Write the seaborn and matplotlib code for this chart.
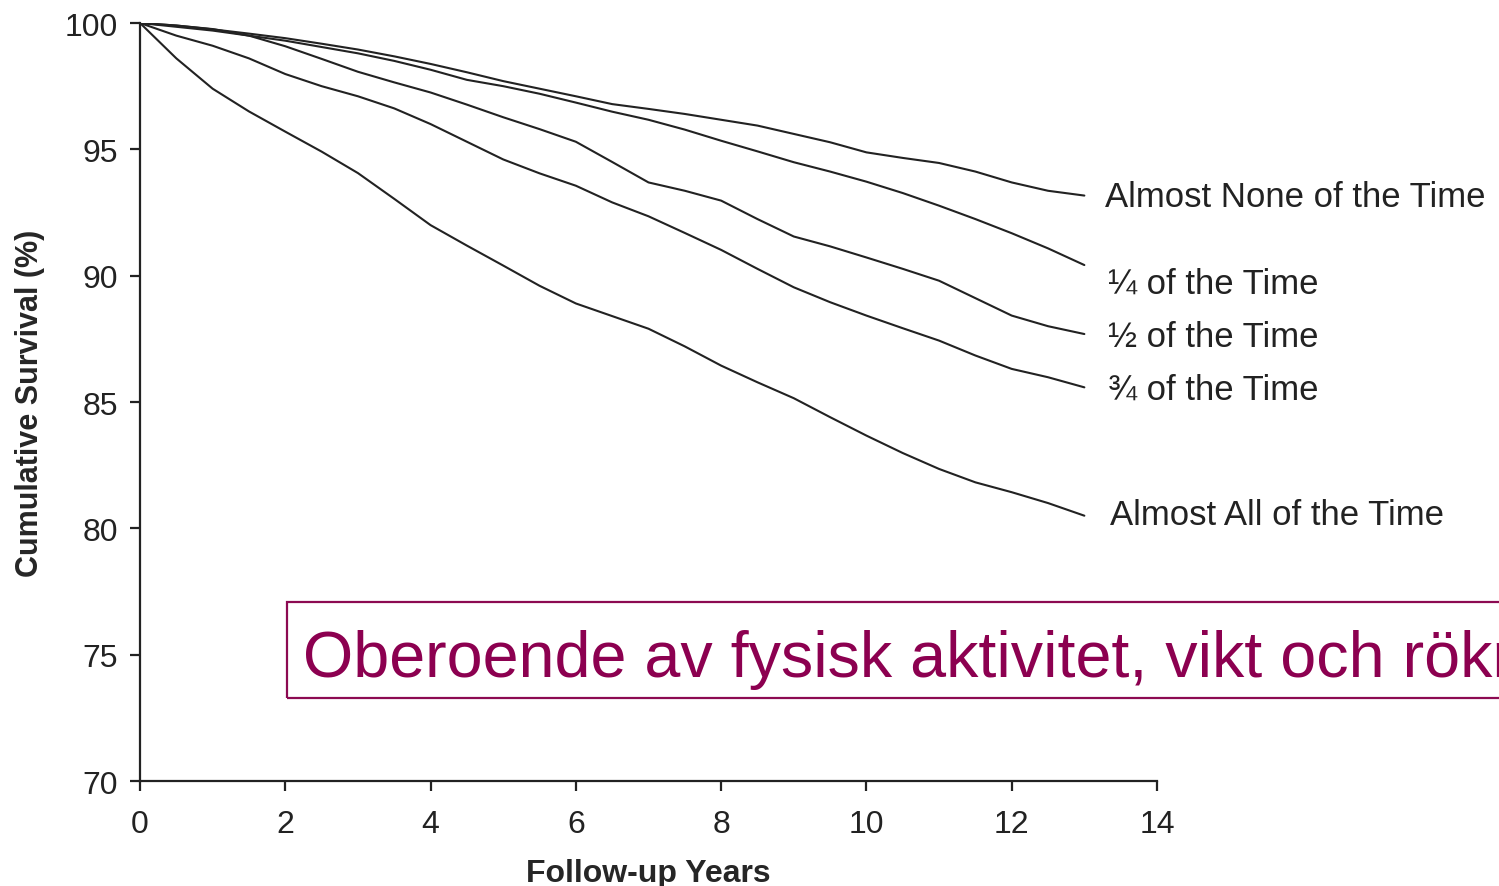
import pandas as pd
import seaborn as sns
import matplotlib.pyplot as plt
from matplotlib.patches import Rectangle

sns.set_theme(style='ticks')
plt.rcParams['font.family'] = ['Liberation Sans', 'DejaVu Sans']

# follow-up years, every half year
years = [0, 0.5, 1, 1.5, 2, 2.5, 3, 3.5, 4, 4.5, 5, 5.5, 6, 6.5,
         7, 7.5, 8, 8.5, 9, 9.5, 10, 10.5, 11, 11.5, 12, 12.5, 13]

# cumulative survival (%)
almost_none = [100, 99.9, 99.75, 99.58, 99.4, 99.18, 98.95, 98.68, 98.38, 98.05, 97.7, 97.4, 97.1, 96.79,
               96.6, 96.4, 96.17, 95.94, 95.61, 95.28, 94.88, 94.66, 94.46, 94.12, 93.69, 93.36, 93.17]
quarter = [100, 99.85, 99.7, 99.5, 99.3, 99.05, 98.8, 98.5, 98.15, 97.75, 97.5, 97.2, 96.85, 96.49,
           96.17, 95.78, 95.34, 94.92, 94.49, 94.12, 93.72, 93.27, 92.77, 92.24, 91.68, 91.08, 90.42]
half = [100, 99.9, 99.76, 99.5, 99.08, 98.58, 98.07, 97.65, 97.25, 96.77, 96.27, 95.8, 95.3, 94.5,
        93.69, 93.36, 92.97, 92.24, 91.55, 91.16, 90.72, 90.27, 89.8, 89.11, 88.42, 88.0, 87.69]
three_quarter = [100, 99.5, 99.1, 98.6, 97.98, 97.5, 97.10, 96.62, 96.00, 95.3, 94.6, 94.05, 93.56, 92.9,
                 92.35, 91.69, 91.02, 90.27, 89.54, 88.95, 88.42, 87.92, 87.43, 86.84, 86.31, 85.98, 85.58]
almost_all = [100, 98.6, 97.4, 96.5, 95.70, 94.91, 94.06, 93.04, 92.0, 91.19, 90.40, 89.6, 88.9, 88.4,
              87.9, 87.2, 86.44, 85.78, 85.15, 84.40, 83.67, 82.98, 82.35, 81.82, 81.43, 81.0, 80.50]

groups = ["Almost None of the Time", "\u00bc of the Time", "\u00bd of the Time",
          "\u00be of the Time", "Almost All of the Time"]
series = [almost_none, quarter, half, three_quarter, almost_all]

# where the end labels sit (years, %)
label_x = [13.28, 13.33, 13.33, 13.33, 13.35]
label_y = [93.15, 89.7, 87.6, 85.5, 80.55]

note = "Oberoende av fysisk aktivitet, vikt och rökning"

df = pd.concat([pd.DataFrame({"year": years, "survival": s, "group": g})
                for g, s in zip(groups, series)], ignore_index=True)

fig = plt.figure(figsize=(14.99, 8.87), dpi=100)
ax = fig.add_axes([140/1499, 1 - 782/887, 1017/1499, 758/887])

sns.lineplot(data=df, x="year", y="survival", hue="group",
             palette=["#222222"] * 5, linewidth=1.5, legend=False, ax=ax)

for g, lx, ly in zip(groups, label_x, label_y):
    ax.text(lx, ly, g, fontsize=25, color="#222222", va="center", ha="left",
            clip_on=False)

ax.set_xlim(0, 14)
ax.set_ylim(70, 100)
ax.set_xticks(range(0, 15, 2))
ax.set_yticks(range(70, 101, 5))
sns.despine(ax=ax)
for sp in ax.spines.values():
    sp.set_linewidth(1.6)
    sp.set_color("#222222")
ax.tick_params(axis='both', direction='out', length=7, width=1.6, color="#222222",
               labelsize=23, labelcolor="#222222")
ax.tick_params(axis='x', pad=13)
ax.tick_params(axis='y', pad=9)

ax.set_xlabel("Follow-up Years", fontsize=23, fontweight='bold', labelpad=14)
ax.set_ylabel("Cumulative Survival (%)", fontsize=22, fontweight='bold', labelpad=14)

# purple note box, running off the right edge as in the slide
fig.patches.append(Rectangle((287/1499, 1 - 699/887), 0.9, 96/887,
                             transform=fig.transFigure, fill=False,
                             edgecolor="#8C0A52", linewidth=1.6))
fig.text(303/1499, 1 - 677/887, note, fontsize=46.5, color="#8C0050",
         va="baseline", ha="left")

plt.savefig("out.png", dpi=100)
